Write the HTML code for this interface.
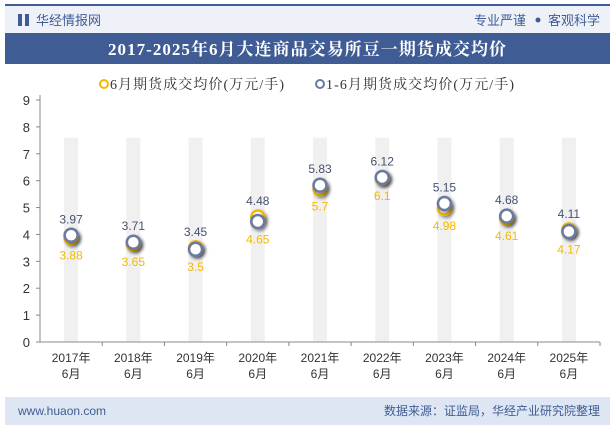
<!DOCTYPE html>
<html><head><meta charset="utf-8"><style>
body{margin:0;width:615px;height:427px;overflow:hidden;background:#fff;font-family:"Liberation Sans","Noto Sans CJK SC",sans-serif;}
svg text{font-family:"Liberation Sans","Noto Sans CJK SC",sans-serif;}
svg text.serif{font-family:"Liberation Serif","Noto Serif CJK SC",serif;}
</style></head><body>
<svg width="615" height="427">
<defs><filter id="sh" x="-50%" y="-50%" width="200%" height="200%"><feDropShadow dx="2" dy="2" stdDeviation="1.5" flood-color="#000" flood-opacity="0.45"/></filter></defs>
<rect x="5" y="4" width="605" height="2" fill="#3f5c94"/>
<rect x="5" y="6" width="605" height="27" fill="#eef2f8"/>
<rect x="18" y="14" width="4" height="12" fill="#3f5c94"/><rect x="25" y="14" width="4" height="12" fill="#3f5c94"/>
<text x="36" y="25" font-size="13" fill="#3f5c94">华经情报网</text>
<text x="526" y="25" font-size="13" fill="#3f5c94" text-anchor="end">专业严谨</text>
<circle cx="538" cy="20" r="2.5" fill="#3f5c94"/>
<text x="600" y="25" font-size="13" fill="#3f5c94" text-anchor="end">客观科学</text>
<rect x="5" y="33" width="605" height="31" fill="#3f5c94"/>
<text class="serif" x="307" y="55" font-size="17" font-weight="bold" fill="#fff" text-anchor="middle" textLength="398">2017-2025年6月大连商品交易所豆一期货成交均价</text>
<g>
<circle cx="104" cy="84" r="4" fill="none" stroke="#f5b800" stroke-width="2"/>
<text class="serif" x="110" y="89" font-size="14" fill="#333" textLength="174">6月期货成交均价(万元/手)</text>
<circle cx="320" cy="84" r="4" fill="none" stroke="#6b7a9f" stroke-width="2"/>
<text class="serif" x="326" y="89" font-size="14" fill="#333" textLength="188">1-6月期货成交均价(万元/手)</text>
</g>
<g id="plot"></g>
<rect x="5" y="397" width="605" height="28" fill="#dde6f2"/>
<text x="18" y="415" font-size="12" fill="#3f5c94">www.huaon.com</text>
<text x="600" y="415" font-size="12" fill="#3f5c94" text-anchor="end">数据来源：证监局，华经产业研究院整理</text>
</svg>
<script>
const categories=["2017年|6月","2018年|6月","2019年|6月","2020年|6月","2021年|6月","2022年|6月","2023年|6月","2024年|6月","2025年|6月"];
const juneValues=[3.88,3.65,3.5,4.65,5.7,6.1,4.98,4.61,4.17];
const ytdValues=[3.97,3.71,3.45,4.48,5.83,6.12,5.15,4.68,4.11];
const yTicks=[0,1,2,3,4,5,6,7,8,9];
const NS="http://www.w3.org/2000/svg";
const g=document.getElementById('plot');
const x0=40,x1=600,yb=342,yt=100,ymax=9;
const step=(x1-x0)/categories.length;
const xs=i=>x0+step*(i+0.5);
const ys=v=>yb-(yb-yt)*v/ymax;
function el(t,a,p){const e=document.createElementNS(NS,t);for(const k in a)e.setAttribute(k,a[k]);(p||g).appendChild(e);return e;}
categories.forEach((c,i)=>{const r=el('rect',{x:xs(i)-7,y:ys(7.6),width:14,height:yb-ys(7.6),fill:'#f0f0f0'});

});
const ax=el('line',{x1:x0,y1:yt-5,x2:x0,y2:yb,stroke:'#888'});


const bx=el('line',{x1:x0,y1:yb,x2:x1,y2:yb,stroke:'#888'});


yTicks.forEach(v=>{el('line',{x1:x0-4,y1:ys(v),x2:x0,y2:ys(v),stroke:'#888'});
const t=el('text',{x:x0-10,y:ys(v)+5,'font-size':13,fill:'#333','text-anchor':'end'});t.textContent=v;

});
categories.forEach((c,i)=>{const [a,b]=c.split('|');
el('line',{x1:x0+step*(i+1),y1:yb,x2:x0+step*(i+1),y2:yb+4,stroke:'#888'});
const t=el('text',{x:xs(i),y:yb+20,'font-size':12,fill:'#333','text-anchor':'middle'});t.textContent=a;


const t2=el('text',{x:xs(i),y:yb+36,'font-size':12,fill:'#333','text-anchor':'middle'});t2.textContent=b;

});
categories.forEach((c,i)=>{
const p1=el('circle',{cx:xs(i),cy:ys(juneValues[i]),r:6.5,fill:'#fff',stroke:'#f5b800','stroke-width':2.5,filter:'url(#sh)'});


const p2=el('circle',{cx:xs(i),cy:ys(ytdValues[i]),r:6.5,fill:'#fff',stroke:'#6b7a9f','stroke-width':2.5,filter:'url(#sh)'});


const lo=Math.min(ys(juneValues[i]),ys(ytdValues[i])),hi=Math.max(ys(juneValues[i]),ys(ytdValues[i]));
const l1=el('text',{x:xs(i),y:hi+22,'font-size':12,fill:'#f5b800','text-anchor':'middle'});l1.textContent=juneValues[i];


const l2=el('text',{x:xs(i),y:lo-12,'font-size':12,fill:'#44506e','text-anchor':'middle'});l2.textContent=ytdValues[i];

});
</script>
</body></html>
